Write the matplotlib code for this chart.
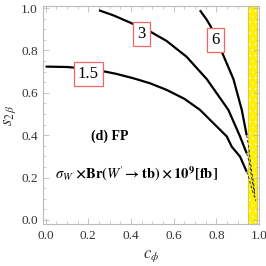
"""Contours of sigma_W' x Br(W' -> tb) in the (c_phi, s_2beta) plane, FP case."""
import matplotlib
matplotlib.use("Agg")
import matplotlib.pyplot as plt

# contour levels and their traced points (c_phi, s_2beta)
levels = ["1.5", "3", "6"]
c_15 = [0.00, 0.10, 0.20, 0.255, 0.33, 0.411, 0.49, 0.567, 0.65, 0.723, 0.794, 0.849, 0.872, 0.911, 0.942]
s_15 = [0.724, 0.722, 0.714, 0.705, 0.690, 0.669, 0.645, 0.614, 0.572, 0.520, 0.449, 0.394, 0.346, 0.299, 0.228]
c_3 = [0.25, 0.32, 0.40, 0.489, 0.567, 0.661, 0.755, 0.856, 0.911, 0.942]
s_3 = [0.990, 0.965, 0.930, 0.890, 0.845, 0.770, 0.665, 0.520, 0.394, 0.315]
c_6 = [0.723, 0.755, 0.774, 0.825, 0.88, 0.919, 0.942]
s_6 = [0.990, 0.945, 0.913, 0.795, 0.665, 0.520, 0.400]
# continuation inside the excluded band (dashed)
band_c = [[0.942, 0.955, 0.965, 0.975, 0.985],
          [0.942, 0.955, 0.962, 0.972, 0.982],
          [0.942, 0.952, 0.960, 0.970, 0.980]]
band_s = [[0.228, 0.19, 0.15, 0.12, 0.09],
          [0.315, 0.27, 0.22, 0.16, 0.11],
          [0.400, 0.34, 0.27, 0.20, 0.13]]
label_pos = [(0.20, 0.69), (0.45, 0.877), (0.795, 0.85)]
band = (0.947, 0.992)

plt.rcParams.update({
    "font.family": ["Liberation Serif", "DejaVu Serif"],
    "mathtext.fontset": "stix",
    "axes.edgecolor": "#bbbbbb",
    "axes.linewidth": 0.8,
    "xtick.color": "#bbbbbb",
    "ytick.color": "#bbbbbb",
    "xtick.labelcolor": "#333333",
    "ytick.labelcolor": "#333333",
    "xtick.labelsize": 9.5,
    "ytick.labelsize": 9.5,
    "xtick.major.pad": 4.5,
    "hatch.linewidth": 0.6,
})

fig = plt.figure(figsize=(2.66, 2.66), dpi=100)
ax = fig.add_axes([0.16, 0.158, 0.815, 0.821])

# yellow band: speckled fill, then a thin border
ax.axvspan(*band, facecolor="#fff000", edgecolor="#fff9b8", linewidth=0,
           hatch="...", zorder=1)
ax.axvspan(*band, facecolor="none", edgecolor="#d8cc50", linewidth=0.8, zorder=1)

for cs, ss in [(c_15, s_15), (c_3, s_3), (c_6, s_6)]:
    ax.plot(cs, ss, color="black", linewidth=1.6, zorder=3,
            solid_joinstyle="round", solid_capstyle="butt")
for cs, ss in zip(band_c, band_s):
    ax.plot(cs, ss, color="#333333", linewidth=0.7, linestyle=(0, (3, 2)), zorder=3)

for lab, (x, y) in zip(levels, label_pos):
    ax.text(x, y, lab, ha="center", va="center", fontsize=12, zorder=4,
            bbox=dict(boxstyle="square,pad=0.25", facecolor="white",
                      edgecolor="#ee6666", linewidth=0.9))

ax.text(0.30, 0.394, "(d) FP", ha="center", va="center", fontsize=10,
        fontweight="bold")
ax.text(0.426, 0.22,
        r"$\sigma_{W'}$$\mathbf{\times Br(}$$\mathbf{\mathit{W}}'$$\mathbf{\to tb)\times 10^9[fb]}$",
        ha="center", va="center", fontsize=10.5)

ax.set_xlim(-0.014, 1.0014)
ax.set_ylim(-0.019, 1.012)
ax.set_xticks([0.0, 0.2, 0.4, 0.6, 0.8, 1.0])
ax.set_yticks([0.0, 0.2, 0.4, 0.6, 0.8, 1.0])
ax.set_xticks([i * 0.05 for i in range(21)], minor=True)
ax.set_yticks([i * 0.05 for i in range(21)], minor=True)
ax.tick_params(which="both", direction="in", top=True, right=True)
ax.tick_params(which="major", length=4, width=0.6)
ax.tick_params(which="minor", length=2, width=0.5)

ax.set_xlabel(r"$c_\phi$", fontsize=12, color="#333333", labelpad=4)
ax.set_ylabel(r"$s_{2\,\beta}$", fontsize=12, color="#333333", labelpad=2)

fig.savefig("out.png", dpi=100)
